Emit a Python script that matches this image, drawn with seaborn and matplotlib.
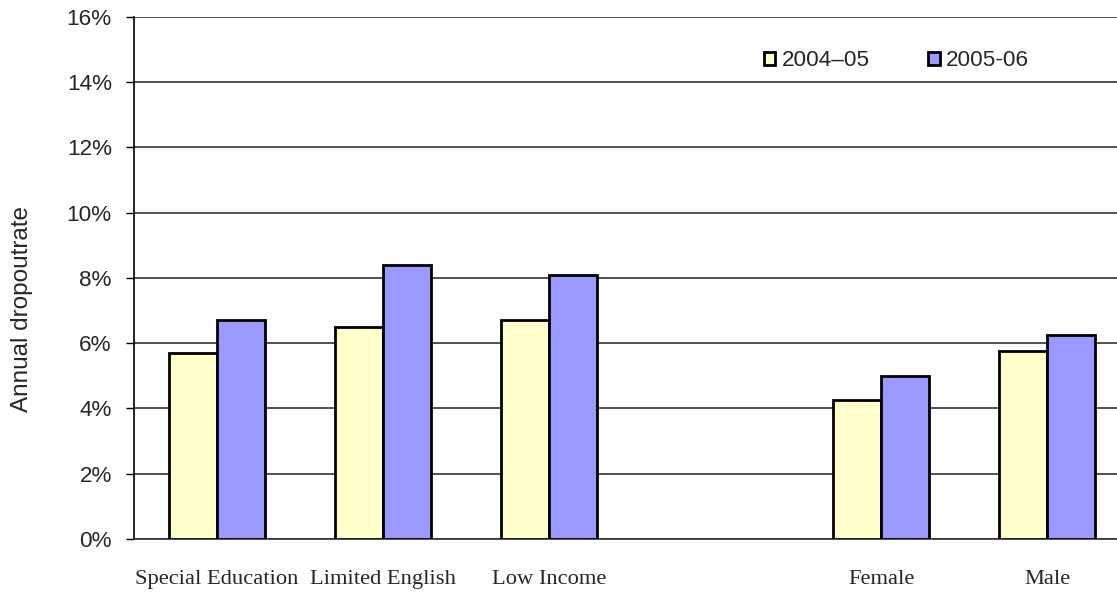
import pandas as pd
import numpy as np
import matplotlib.pyplot as plt
import seaborn as sns

# data (percent)
groups = ['Special Education', 'Limited English', 'Low Income', 'Female', 'Male']
order = ['Special Education', 'Limited English', 'Low Income', ' ', 'Female', 'Male']
years = ['2004\u201305', '2005-06']
rate_0405 = [5.7, 6.5, 6.7, 4.25, 5.75]
rate_0506 = [6.7, 8.4, 8.1, 5.0, 6.25]
yticks = [0, 2, 4, 6, 8, 10, 12, 14, 16]
colors = ['#FFFFCC', '#9999FF']

df = pd.DataFrame({
    'group': groups * 2,
    'year': [years[0]] * len(groups) + [years[1]] * len(groups),
    'rate': rate_0405 + rate_0506,
})

sns.set_style('white')
plt.rcParams['font.family'] = ['Liberation Sans', 'DejaVu Sans']

fig = plt.figure(figsize=(11.17, 5.92), dpi=100)
ax = fig.add_axes([0.12, 0.0895, 0.88, 0.882])

sns.barplot(data=df, x='group', y='rate', hue='year', order=order,
            hue_order=years, palette=colors, width=0.58, saturation=1,
            edgecolor='black', linewidth=2, errorbar=None, ax=ax, zorder=3)

ax.set_ylim(0, 16)
ax.set_xlim(-0.5, 5.42)
ax.set_yticks(yticks)
ax.set_yticklabels([f'{t}%' for t in yticks], fontsize=16.2)
ax.yaxis.grid(True, color='#333333', linewidth=1.2, zorder=0)
ax.set_axisbelow(True)
ax.tick_params(axis='y', length=6, width=1, color='black', left=True, pad=10)
ax.tick_params(axis='x', length=0, pad=22)
for lbl in ax.get_xticklabels():
    lbl.set_fontfamily('Liberation Serif')
    lbl.set_fontsize(16.2)

for side in ['top', 'right']:
    ax.spines[side].set_visible(False)
ax.spines['left'].set_color('black')
ax.spines['left'].set_linewidth(1.2)
ax.spines['bottom'].set_color('#333333')
ax.spines['bottom'].set_linewidth(1.2)

ax.set_xlabel('')
ax.set_ylabel('Annual dropoutrate', fontsize=17.5)
ax.yaxis.set_label_coords(-0.103, 0.44)

handles, labels = ax.get_legend_handles_labels()
ax.legend(handles, labels, ncol=2, frameon=False, fontsize=16.2,
          loc='upper left', bbox_to_anchor=(0.62, 0.975),
          handlelength=0.5, handleheight=0.5, handletextpad=0.3,
          columnspacing=2.6)

fig.savefig('out.png', dpi=100)
